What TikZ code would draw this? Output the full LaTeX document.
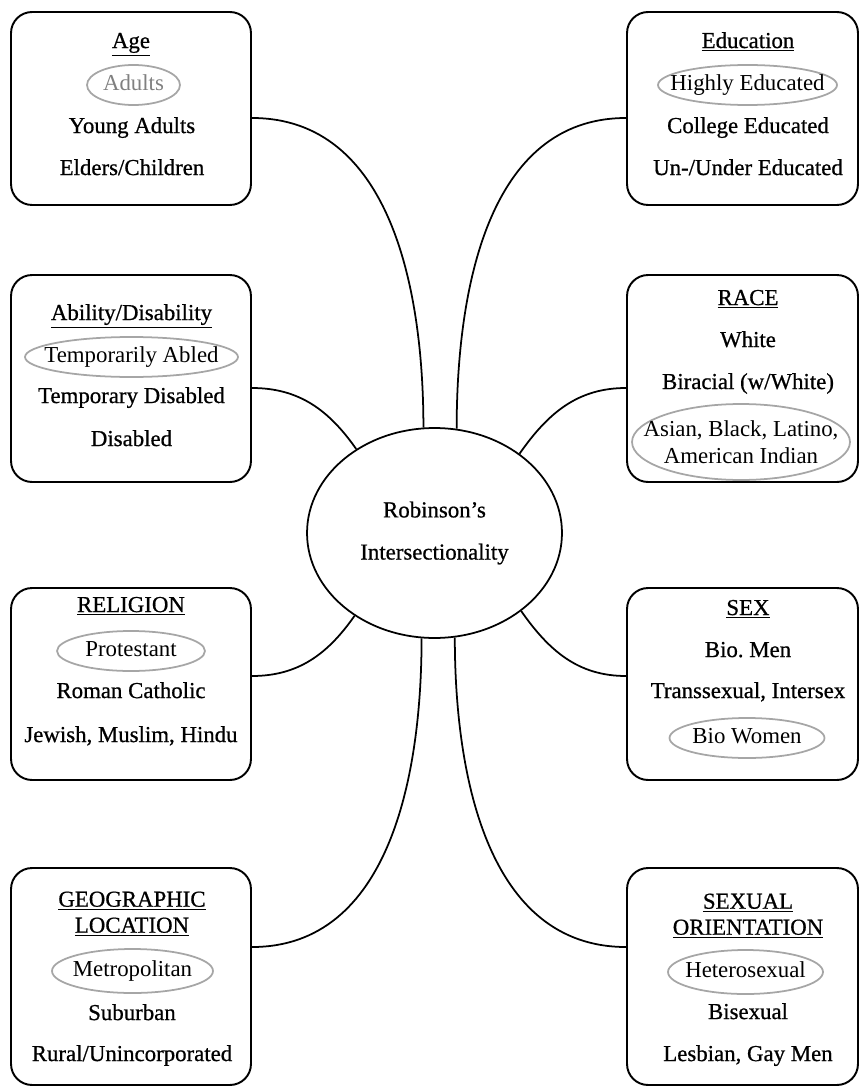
\documentclass[tikz,border=0pt]{standalone}
\usepackage{fontspec}
\setmainfont{Liberation Serif}
\newfontfamily\medfont{Liberation Serif}[FakeBold=0.7]
\usetikzlibrary{shapes.geometric}
\tikzset{
  lbox/.style={draw, line width=1.1pt, rounded corners=0.42cm, minimum width=4.8cm},
  rbox/.style={draw, line width=1.1pt, rounded corners=0.42cm, minimum width=4.62cm},
  item/.style={inner sep=0pt, text height=1.5ex, text depth=.25ex, font=\medfont\fontsize{13}{15}\selectfont},
  head/.style={item},
  pick/.style={item, font=\fontsize{13}{15}\selectfont, ellipse, draw=gray!70, line width=1pt, inner xsep=-20pt, minimum height=0.8cm, minimum width=#1},
  hub/.style={draw, ellipse, line width=1pt, inner sep=0pt, align=center, minimum width=5.1cm, minimum height=4.2cm, font=\medfont\fontsize{13}{15}\selectfont},
  link/.style={line width=1pt}
}
\begin{document}
\begin{tikzpicture}[x=0.02cm, y=-0.02cm, font=\fontsize{13}{15}\selectfont]
\useasboundingbox (0,0) rectangle (860,1091);
% centre
\node[hub] (hub) at (434.5,533) {Robinson’s\\[9pt]Intersectionality};
% left column
\node[lbox, minimum height=3.86cm] (age) at (131,108.5) {};
\node[head] (agehd) at (131,43) {\underline{Age}};
\node[pick=1.86cm, text=gray] (age1) at (133.5,85) {Adults};
\node[item] (age2) at (132,128) {Young Adults};
\node[item] (age3) at (132,170) {Elders/Children};

\node[lbox, minimum height=4.14cm] (abil) at (131,378.5) {};
\node[head] (abilhd) at (131.5,315) {\underline{Ability/Disability}};
\node[pick=4.26cm] (abil1) at (131.5,357) {Temporarily Abled};
\node[item] (abil2) at (131.5,398) {Temporary Disabled};
\node[item] (abil3) at (131.5,441) {Disabled};

\node[lbox, minimum height=3.84cm] (relig) at (131,684) {};
\node[head] (relighd) at (131,607) {\underline{RELIGION}};
\node[pick=2.96cm] (relig1) at (131,651) {Protestant};
\node[item] (relig2) at (131,693) {Roman Catholic};
\node[item] (relig3) at (131,737) {Jewish, Muslim, Hindu};

\node[lbox, minimum height=4.34cm] (geo) at (131,976.5) {};
\node[align=center, inner sep=0pt, font=\medfont\fontsize{13}{14.8}\selectfont] (geohd) at (132,914) {\underline{GEOGRAPHIC}\\\underline{LOCATION}};
\node[pick=3.22cm, minimum height=0.88cm] (geo1) at (132.5,971) {Metropolitan};
\node[item] (geo2) at (132,1015) {Suburban};
\node[item] (geo3) at (132,1056) {Rural/Unincorporated};
% right column
\node[rbox, minimum height=3.86cm] (edu) at (742.5,108.5) {};
\node[head] (eduhd) at (748,43) {\underline{Education}};
\node[pick=3.58cm] (edu1) at (747.5,85) {Highly Educated};
\node[item] (edu2) at (748,128) {College Educated};
\node[item] (edu3) at (748,170) {Un-/Under Educated};

\node[rbox, minimum height=4.14cm] (race) at (742.5,378.5) {};
\node[head] (racehd) at (748,300) {\underline{RACE}};
\node[item] (race1) at (748,342) {White};
\node[item] (race2) at (748,384) {Biracial (w/White)};
\node[ellipse, draw=gray!70, line width=1pt, inner xsep=-20pt, inner ysep=0pt, align=center,
      minimum width=4.36cm, minimum height=1.52cm, font=\fontsize{13}{15.5}\selectfont] (race3) at (741,442) {Asian, Black, Latino,\\American Indian};

\node[rbox, minimum height=3.84cm] (sex) at (742.5,684) {};
\node[head] (sexhd) at (748,610) {\underline{SEX}};
\node[item] (sex1) at (748,652) {Bio.\ Men};
\node[item] (sex2) at (748,693) {Transsexual, Intersex};
\node[pick=3.1cm] (sex3) at (747,738) {Bio Women};

\node[rbox, minimum height=4.34cm] (orient) at (742.5,976.5) {};
\node[align=center, inner sep=0pt, font=\medfont\fontsize{13}{14.8}\selectfont] (orienthd) at (748,916) {\underline{SEXUAL}\\\underline{ORIENTATION}};
\node[pick=3.1cm, minimum height=0.88cm] (orient1) at (745.5,972) {Heterosexual};
\node[item] (orient2) at (748,1014) {Bisexual};
\node[item] (orient3) at (748,1056) {Lesbian, Gay Men};
% links to the centre
\path[draw,link] ([yshift=-0.19cm]age.east) to[out=0,in=90] (hub.96);
\path[draw,link] ([yshift=-0.19cm]edu.west) to[out=180,in=90] (hub.78);
\path[draw,link] ([yshift=-0.19cm]abil.east) to[out=0,in=125] (hub.133);
\path[draw,link] ([yshift=-0.19cm]race.west) to[out=180,in=55] (hub.43);
\path[draw,link] ([yshift=0.16cm]relig.east) to[out=0,in=235] (hub.226);
\path[draw,link] ([yshift=0.16cm]sex.west) to[out=180,in=305] (hub.318);
\path[draw,link] ([yshift=0.59cm]geo.east) to[out=0,in=270] (hub.263);
\path[draw,link] ([yshift=0.59cm]orient.west) to[out=180,in=270] (hub.281);
\end{tikzpicture}
\end{document}
